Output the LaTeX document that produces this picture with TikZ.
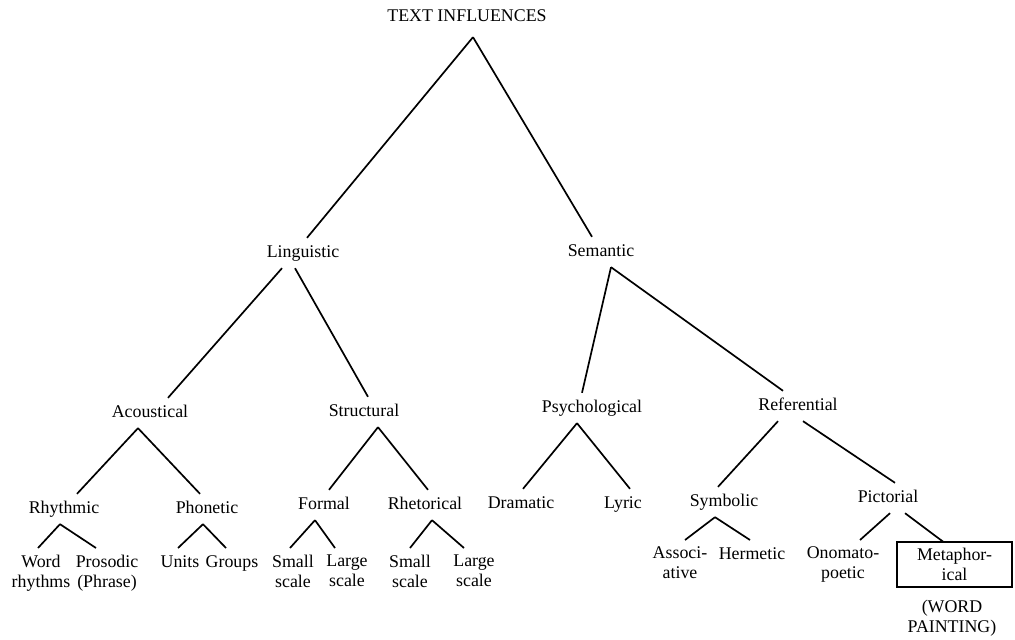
\documentclass[tikz,border=0pt]{standalone}
\usepackage{fontspec}
\setmainfont{Liberation Serif}
\usetikzlibrary{calc}
\begin{document}
\begin{tikzpicture}[x=0.56pt,y=-0.56pt,
  lbl/.style={inner sep=0pt,outer sep=4pt,text height=7pt,text depth=2pt,font=\fontsize{10}{11.2}\selectfont},
  lbltwo/.style={inner sep=0pt,outer sep=4pt,align=center,anchor=north,font=\fontsize{10}{11.2}\selectfont},
  branch/.style={line width=.95pt}]
\useasboundingbox (0,0) rectangle (1015,639);
\node[lbl,outer sep=6.8pt] (ti) at (467,17) {TEXT INFLUENCES};
\node[lbl] (ling) at (303,253) {Linguistic};
\node[lbl] (sem) at (601,252) {Semantic};
\node[lbl] (acou) at (150,413) {Acoustical};
\node[lbl] (struct) at (364,412) {Structural};
\node[lbl] (psych) at (592,408) {Psychological};
\node[lbl] (refer) at (798,406) {Referential};
\node[lbl] (rhyth) at (64,509) {Rhythmic};
\node[lbl] (phon) at (207,509) {Phonetic};
\node[lbl] (formal) at (324,505) {Formal};
\node[lbl] (rhet) at (425,505) {Rhetorical};
\node[lbl] (dram) at (521,504) {Dramatic};
\node[lbl] (lyric) at (623,504) {Lyric};
\node[lbl] (symb) at (724,502) {Symbolic};
\node[lbl] (pict) at (888,498) {Pictorial};
\node[lbltwo] (word) at (41,548) {Word\\rhythms};
\node[lbltwo] (pros) at (107,548) {Prosodic\\(Phrase)};
\node[lbl,anchor=north] (units) at (180,548) {Units};
\node[lbl,anchor=north] (groups) at (232,548) {Groups};
\node[lbltwo] (smallA) at (293,548) {Small\\scale};
\node[lbltwo] (largeA) at (347,548) {Large\\scale};
\node[lbltwo] (smallB) at (410,548) {Small\\scale};
\node[lbltwo] (largeB) at (474,548) {Large\\scale};
\node[lbltwo] (assoc) at (680,540) {Associ-\\ative};
\node[lbl,anchor=north] (herm) at (752,540) {Hermetic};
\node[lbltwo] (onom) at (843,540) {Onomato-\\poetic};
\node[draw,line width=.95pt,inner sep=0pt,outer sep=0pt,minimum width=64.4pt,minimum height=25.2pt,
  align=center,font=\fontsize{10}{11.2}\selectfont] (meta) at (954.5,564.5) {Metaphor-\\ical};
\node[inner sep=0pt,align=center,font=\fontsize{10}{11.2}\selectfont] (wp) at (952,618) {(WORD\\PAINTING)};
\foreach \p/\a/\c/\b in {ti/6/ling/4, ti/6/sem/-9, ling/-21/acou/18, ling/-8/struct/4,
  sem/10/psych/-10, sem/10/refer/-15, acou/-12/rhyth/13, acou/-12/phon/-7,
  struct/14/formal/5, struct/14/rhet/3, psych/-15/dram/2, psych/-15/lyric/7,
  refer/-20/symb/-6, refer/5/pict/7, rhyth/-4/word/-3, rhyth/-4/pros/-11,
  phon/-4/units/-2, phon/-4/groups/-6, formal/-9/smallA/-3, formal/-9/largeA/-12,
  rhet/7/smallB/0, rhet/7/largeB/-10, symb/-9/assoc/5, symb/-9/herm/-2,
  pict/2/onom/17, pict/17/meta/-11}
  \draw[branch] ($(\p.south)+(\a,0)$) -- ($(\c.north)+(\b,0)$);
\end{tikzpicture}
\end{document}
